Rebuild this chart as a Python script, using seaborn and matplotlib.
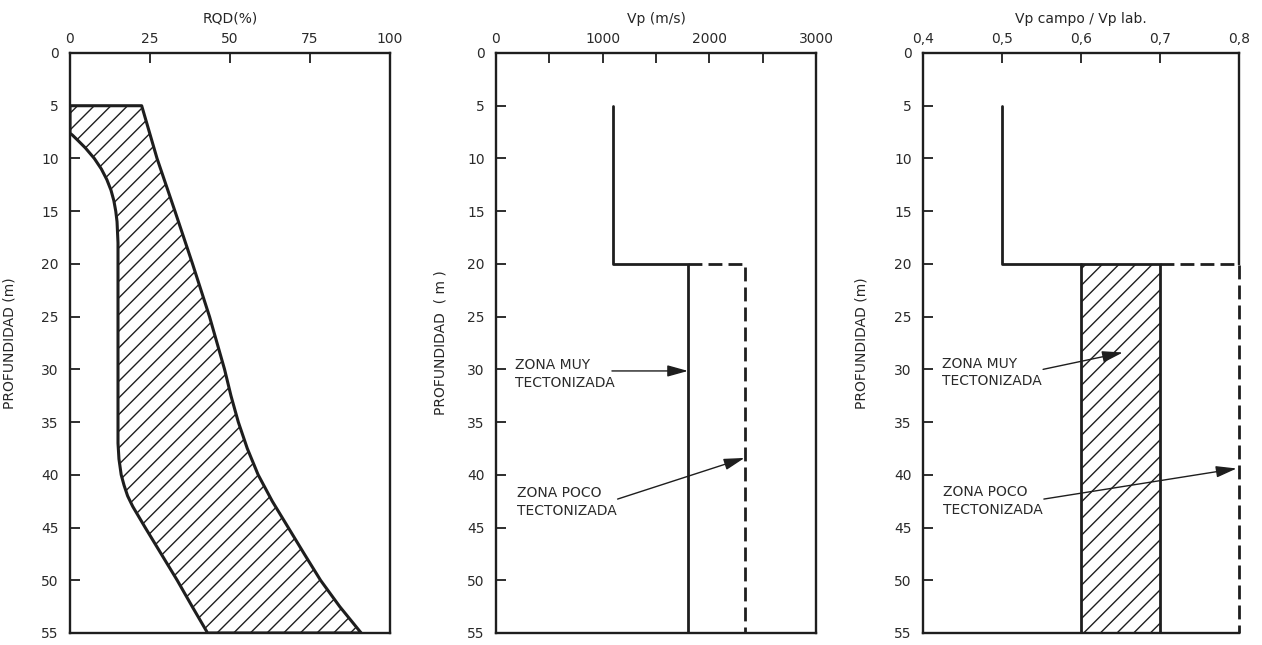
import matplotlib
matplotlib.use('Agg')
import matplotlib.pyplot as plt
import numpy as np
import seaborn as sns

# --- data ---
depth_ticks = list(range(0, 60, 5))

# RQD band (left = minimum, right = maximum)
rqd_min_depth = [5, 7.6, 7.8, 8.3, 9, 10, 11, 12, 13, 14, 15, 16, 18, 37, 38.5, 40, 41,
                 42, 43, 45, 47.5, 50, 52.5, 55]
rqd_min = [0, 0, 0.8, 2.5, 4.8, 7.6, 9.8, 11.5, 12.8, 13.7, 14.3, 14.7, 15, 15, 15.3, 16,
           16.9, 18, 19.6, 23.5, 28.5, 33.5, 38.2, 43]
rqd_max_depth = [5, 10, 15, 20, 25, 30, 32.5, 35, 37.5, 40, 42.5, 45, 47.5, 50, 52.5, 55]
rqd_max = [22.4, 27.2, 32.8, 38.3, 43.6, 48.3, 50.3, 52.6, 55.4, 58.8, 63.2, 68.2, 73.2,
           78.3, 84.3, 91]

# Vp (m/s)
vp_depth = [5, 20, 20, 55]
vp_muy = [1100, 1100, 1800, 1800]
vp_poco_depth = [20, 20, 55]
vp_poco = [1800, 2330, 2330]

# Vp campo / Vp lab
ratio_depth = [5, 20, 20]
ratio_line = [0.5, 0.5, 0.6]
ratio_box = [0.6, 0.7]
ratio_box_depth = [20, 55]
ratio_poco_depth = [20, 20, 55]
ratio_poco = [0.7, 0.8, 0.8]

ink = '#1e1e1e'
sns.set_style('ticks')
plt.rcParams['font.family'] = ['DejaVu Sans']
plt.rcParams['hatch.linewidth'] = 1.0
plt.rcParams['text.color'] = '#2a2a2a'

fig = plt.figure(figsize=(12.62, 6.45), dpi=100)
ax1 = fig.add_axes([70 / 1262, 1 - 633 / 645, 320 / 1262, 580 / 645])
ax2 = fig.add_axes([496 / 1262, 1 - 633 / 645, 320 / 1262, 580 / 645])
ax3 = fig.add_axes([923 / 1262, 1 - 633 / 645, 316 / 1262, 580 / 645])


def style_axes(ax, xlim, xticks, xlabels, xlabel, ylabel, ylab_x):
    ax.set_xlim(xlim)
    ax.set_ylim(55, 0)
    ax.xaxis.tick_top()
    ax.xaxis.set_label_position('top')
    ax.set_xticks(xticks)
    ax.set_xticklabels(xlabels)
    ax.set_yticks(depth_ticks)
    ax.tick_params(direction='in', length=7, width=1.3, color=ink, labelsize=10,
                   labelcolor='#2a2a2a')
    ax.tick_params(axis='x', pad=5)
    ax.tick_params(axis='y', pad=8)
    for s in ax.spines.values():
        s.set_linewidth(1.7)
        s.set_color(ink)
    ax.set_xlabel(xlabel, fontsize=10)
    ax.xaxis.set_label_coords(0.5, 1.052)
    ax.set_ylabel(ylabel, fontsize=10)
    ax.yaxis.set_label_coords(ylab_x, 0.5)


def arrow(ax, start, tip):
    ax.annotate('', xy=tip, xytext=start,
                arrowprops=dict(arrowstyle='-|>,head_length=0.9,head_width=0.25',
                                mutation_scale=14, color=ink, lw=1.0,
                                shrinkA=0, shrinkB=0))


def zone_label(ax, x, y, txt):
    ax.text(x, y, txt, fontsize=10, va='center', ha='left', linespacing=1.35)


# ---------------- panel 1: RQD ----------------
poly_x = [0] + rqd_max + rqd_min[::-1]
poly_y = [5] + rqd_max_depth + rqd_min_depth[::-1]
ax1.fill(poly_x, poly_y, facecolor='white', edgecolor=ink, hatch='//', lw=2.2,
         joinstyle='round', zorder=2)
style_axes(ax1, (0, 100), [0, 25, 50, 75, 100], ['0', '25', '50', '75', '100'],
           'RQD(%)', 'PROFUNDIDAD (m)', -0.166)

# ---------------- panel 2: Vp ----------------
sns.lineplot(x=vp_muy, y=vp_depth, sort=False, estimator=None, color=ink, lw=2, ax=ax2)
sns.lineplot(x=vp_poco, y=vp_poco_depth, sort=False, estimator=None, color=ink, lw=2,
             linestyle=(0, (5, 2.2)), ax=ax2)
style_axes(ax2, (0, 3000), list(range(0, 3001, 500)),
           ['0', '', '1000', '', '2000', '', '3000'],
           'Vp (m/s)', 'PROFUNDIDAD  ( m )', -0.153)
zone_label(ax2, 175, 30.4, 'ZONA MUY\nTECTONIZADA')
arrow(ax2, (1087, 30.15), (1800, 30.15))
zone_label(ax2, 195, 42.6, 'ZONA POCO\nTECTONIZADA')
arrow(ax2, (1140, 42.3), (2330, 38.4))

# ---------------- panel 3: Vp campo / Vp lab ----------------
ax3.fill_betweenx(ratio_box_depth, ratio_box[0], ratio_box[1], facecolor='white',
                  edgecolor=ink, hatch='//', lw=2, zorder=2)
sns.lineplot(x=ratio_line, y=ratio_depth, sort=False, estimator=None, color=ink, lw=2, ax=ax3)
sns.lineplot(x=ratio_poco, y=ratio_poco_depth, sort=False, estimator=None, color=ink, lw=2,
             linestyle=(0, (5, 2.2)), clip_on=False, ax=ax3)
style_axes(ax3, (0.4, 0.8), [0.4, 0.5, 0.6, 0.7, 0.8],
           ['0,4', '0,5', '0,6', '0,7', '0,8'],
           'Vp campo / Vp lab.', 'PROFUNDIDAD (m)', -0.174)
ax3.spines['right'].set_bounds(0, 20)
zone_label(ax3, 0.424, 30.3, 'ZONA MUY\nTECTONIZADA')
arrow(ax3, (0.552, 30.0), (0.653, 28.4))
zone_label(ax3, 0.425, 42.5, 'ZONA POCO\nTECTONIZADA')
arrow(ax3, (0.553, 42.3), (0.797, 39.4))

fig.savefig('out.png', dpi=100, facecolor='white')
